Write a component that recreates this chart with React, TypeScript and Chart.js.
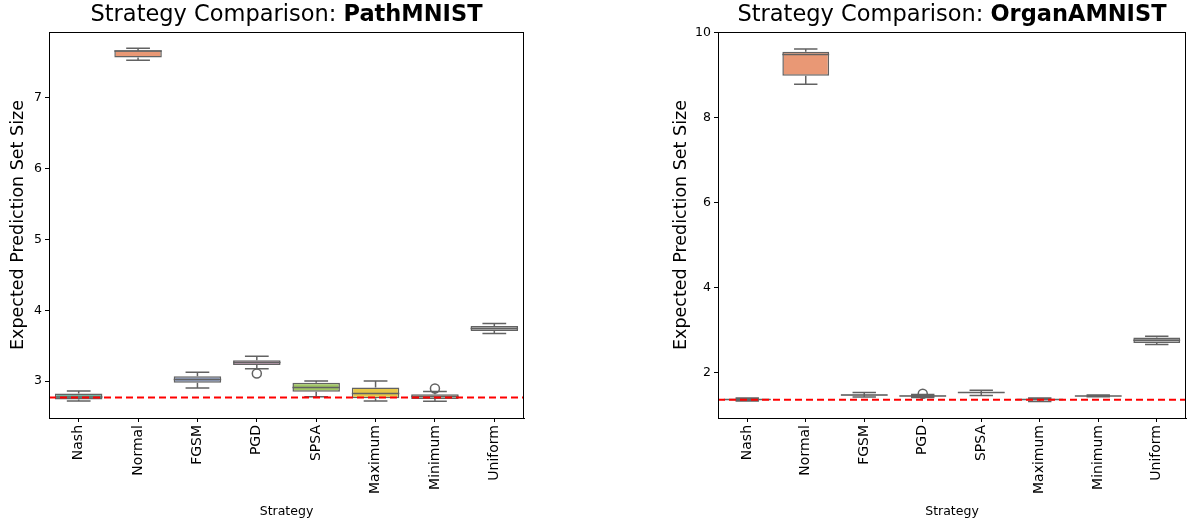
import React, { useEffect, useRef } from 'react';
import { Chart, registerables } from 'chart.js';

Chart.register(...registerables);

// ---------- data ----------
const STRATEGIES = ['Nash', 'Normal', 'FGSM', 'PGD', 'SPSA', 'Maximum', 'Minimum', 'Uniform'];
const BOX_COLORS = ['#70b7a1', '#e99875', '#94a3c4', '#db96c0', '#a2c765', '#e5c849', '#dbc39f', '#b3b3b3'];

// PathMNIST
const PATH_LOW = [2.72, 7.53, 2.905, 3.174, 2.78, 2.72, 2.717, 3.674];
const PATH_Q1 = [2.74, 7.57, 2.976, 3.23, 2.849, 2.76, 2.75, 3.71];
const PATH_MEDIAN = [2.775, 7.66, 3.024, 3.264, 2.911, 2.826, 2.784, 3.744];
const PATH_Q3 = [2.826, 7.674, 3.07, 3.297, 2.976, 2.911, 2.816, 3.78];
const PATH_HIGH = [2.86, 7.70, 3.127, 3.353, 3.004, 3.004, 2.855, 3.815];
const PATH_OUTLIERS = [[], [], [], [3.109], [], [], [2.897], []];
const PATH_REFERENCE = 2.77;
const PATH_Y_TICKS = [3, 4, 5, 6, 7];
const PATH_Y_RANGE = [2.48, 7.93];

// OrganAMNIST
const ORGAN_LOW = [1.34, 8.79, 1.435, 1.42, 1.468, 1.33, 1.44, 2.668];
const ORGAN_Q1 = [1.365, 8.99, 1.472, 1.45, 1.53, 1.365, 1.452, 2.706];
const ORGAN_MEDIAN = [1.374, 9.49, 1.482, 1.459, 1.538, 1.374, 1.459, 2.77];
const ORGAN_Q3 = [1.385, 9.553, 1.492, 1.468, 1.548, 1.385, 1.466, 2.833];
const ORGAN_HIGH = [1.41, 9.62, 1.54, 1.49, 1.593, 1.41, 1.48, 2.864];
const ORGAN_OUTLIERS = [[], [], [], [1.51], [], [], [], []];
const ORGAN_REFERENCE = 1.37;
const ORGAN_Y_TICKS = [2, 4, 6, 8, 10];
const ORGAN_Y_RANGE = [0.94, 10.02];

const TITLE_PREFIX = 'Strategy Comparison: ';
const Y_LABEL = 'Expected Prediction Set Size';
const X_LABEL = 'Strategy';

// ---------- styles ----------
const FONT = "'DejaVu Sans', sans-serif";
const EDGE = '#626262';

type Panel = {
  name: string;
  low: number[];
  q1: number[];
  med: number[];
  q3: number[];
  high: number[];
  outliers: number[][];
  ref: number;
  ticks: number[];
  range: number[];
  yAxisWidth: number;
  yTitlePad: number;
  padRight: number;
};

const PANELS: Panel[] = [
  {
    name: 'PathMNIST', low: PATH_LOW, q1: PATH_Q1, med: PATH_MEDIAN, q3: PATH_Q3, high: PATH_HIGH,
    outliers: PATH_OUTLIERS, ref: PATH_REFERENCE, ticks: PATH_Y_TICKS, range: PATH_Y_RANGE,
    yAxisWidth: 49, yTitlePad: 8, padRight: 70,
  },
  {
    name: 'OrganAMNIST', low: ORGAN_LOW, q1: ORGAN_Q1, med: ORGAN_MEDIAN, q3: ORGAN_Q3, high: ORGAN_HIGH,
    outliers: ORGAN_OUTLIERS, ref: ORGAN_REFERENCE, ticks: ORGAN_Y_TICKS, range: ORGAN_Y_RANGE,
    yAxisWidth: 124, yTitlePad: 77, padRight: 2,
  },
];

const boxExtras = {
  id: 'boxExtras',
  afterDatasetsDraw(chart: any, _args: any, opts: any) {
    const p: Panel = opts.panel;
    const ctx = chart.ctx;
    const ys = chart.scales.y;
    const meta = chart.getDatasetMeta(0);
    const area = chart.chartArea;
    ctx.save();
    ctx.strokeStyle = EDGE;
    ctx.lineWidth = 1.5;
    ctx.lineCap = 'butt';
    meta.data.forEach((bar: any, i: number) => {
      const cx = bar.x;
      const w = bar.width;
      const yq1 = ys.getPixelForValue(p.q1[i]);
      const yq3 = ys.getPixelForValue(p.q3[i]);
      const yl = ys.getPixelForValue(p.low[i]);
      const yh = ys.getPixelForValue(p.high[i]);
      const ym = ys.getPixelForValue(p.med[i]);
      ctx.beginPath();
      ctx.moveTo(cx, yq3); ctx.lineTo(cx, yh);
      ctx.moveTo(cx, yq1); ctx.lineTo(cx, yl);
      ctx.moveTo(cx - w / 4, yh); ctx.lineTo(cx + w / 4, yh);
      ctx.moveTo(cx - w / 4, yl); ctx.lineTo(cx + w / 4, yl);
      ctx.moveTo(cx - w / 2, ym); ctx.lineTo(cx + w / 2, ym);
      ctx.stroke();
      p.outliers[i].forEach((v) => {
        ctx.beginPath();
        ctx.arc(cx, ys.getPixelForValue(v), 4.5, 0, Math.PI * 2);
        ctx.stroke();
      });
    });
    // reference line
    const yr = ys.getPixelForValue(p.ref);
    ctx.strokeStyle = '#ff0000';
    ctx.lineWidth = 2;
    ctx.setLineDash([7, 4]);
    ctx.beginPath();
    ctx.moveTo(area.left, yr);
    ctx.lineTo(area.right, yr);
    ctx.stroke();
    ctx.setLineDash([]);
    // frame
    ctx.strokeStyle = '#000';
    ctx.lineWidth = 1;
    ctx.strokeRect(Math.round(area.left) + 0.5, Math.round(area.top) + 0.5,
      Math.round(area.right - area.left) - 1, Math.round(area.bottom - area.top));
    ctx.restore();
  },
  afterDraw(chart: any, _args: any, opts: any) {
    const p: Panel = opts.panel;
    const ctx = chart.ctx;
    const area = chart.chartArea;
    ctx.save();
    ctx.fillStyle = '#000';
    ctx.textBaseline = 'middle';
    ctx.textAlign = 'left';
    const normalFont = `22.5px ${FONT}`;
    const boldFont = `bold 22.5px ${FONT}`;
    ctx.font = normalFont;
    const w1 = ctx.measureText(TITLE_PREFIX).width;
    ctx.font = boldFont;
    const w2 = ctx.measureText(p.name).width;
    const cx = (area.left + area.right) / 2;
    const x0 = cx - (w1 + w2) / 2;
    const y = 15;
    ctx.font = normalFont;
    ctx.fillText(TITLE_PREFIX, x0, y);
    ctx.font = boldFont;
    ctx.fillText(p.name, x0 + w1, y);
    ctx.restore();
  },
};

function BoxChart({ panel }: { panel: Panel }) {
  const ref = useRef<HTMLCanvasElement>(null);
  useEffect(() => {
    if (!ref.current) return;
    const chart = new Chart(ref.current, {
      type: 'bar',
      data: {
        labels: STRATEGIES,
        datasets: [
          {
            data: panel.q1.map((v, i) => [v, panel.q3[i]]) as any,
            backgroundColor: BOX_COLORS,
            borderColor: EDGE,
            borderWidth: 1.5,
            borderSkipped: false,
            categoryPercentage: 0.8,
            barPercentage: 1.0,
          },
        ],
      },
      options: {
        responsive: false,
        animation: false,
        layout: { padding: { left: 0, right: panel.padRight, top: 32, bottom: 0 } },
        plugins: {
          legend: { display: false },
          tooltip: { enabled: false },
          title: { display: false },
          boxExtras: { panel },
        } as any,
        scales: {
          x: {
            type: 'category',
            offset: true,
            grid: { display: true, drawOnChartArea: false, drawTicks: true, tickLength: 4, color: '#000', offset: false },
            border: { display: true, color: '#000', width: 1 },
            ticks: {
              autoSkip: false,
              minRotation: 90,
              maxRotation: 90,
              padding: 3,
              color: '#000',
              font: { family: FONT, size: 14 },
            },
            title: {
              display: true,
              text: X_LABEL,
              color: '#000',
              font: { family: FONT, size: 12.5 },
              padding: { top: 0, bottom: 5 },
            },
            afterFit: (s: any) => { s.height = 106; },
          },
          y: {
            type: 'linear',
            min: panel.range[0],
            max: panel.range[1],
            grid: { display: true, drawOnChartArea: false, drawTicks: true, tickLength: 4, color: '#000' },
            border: { display: true, color: '#000', width: 1 },
            ticks: { color: '#000', padding: 3, font: { family: FONT, size: 12.5 } },
            title: {
              display: true,
              text: Y_LABEL,
              color: '#000',
              font: { family: FONT, size: 17.5 },
              padding: { top: panel.yTitlePad, bottom: 0 },
            },
            afterBuildTicks: (s: any) => { s.ticks = panel.ticks.map((v) => ({ value: v })); },
            afterFit: (s: any) => { s.width = panel.yAxisWidth; },
          },
        },
      } as any,
      plugins: [boxExtras],
    });
    return () => chart.destroy();
  }, [panel]);
  return <canvas ref={ref} width={594} height={524} style={{ width: 594, height: 524, display: 'block' }} />;
}

export default function App() {
  return (
    <div style={{ position: 'fixed', left: 0, top: 0, width: 1188, height: 524, background: '#fff', display: 'flex' }}>
      {PANELS.map((p) => (
        <BoxChart key={p.name} panel={p} />
      ))}
    </div>
  );
}
